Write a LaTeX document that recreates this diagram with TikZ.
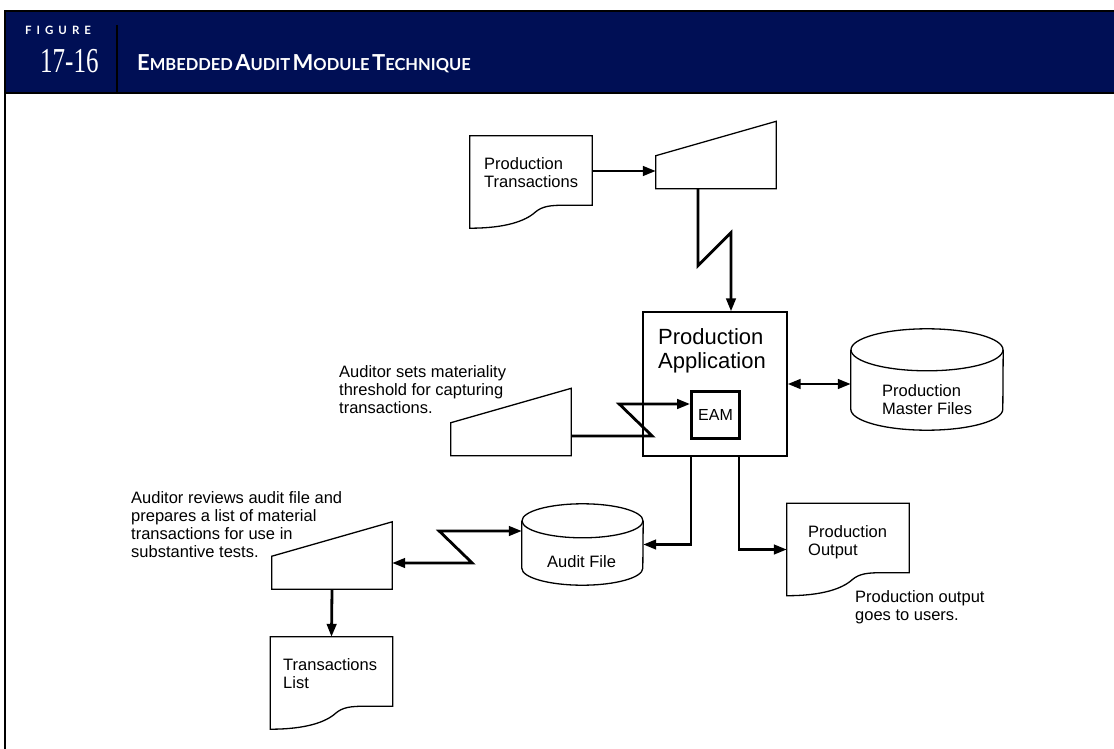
\documentclass[tikz,border=0pt]{standalone}
\usepackage{fontspec}
\setmainfont{Liberation Sans}
\newfontfamily\headfont{Lato}
\newfontfamily\numfont{Liberation Serif}
\usetikzlibrary{arrows.meta, calc}
\definecolor{headnavy}{RGB}{0,15,85}
\newcommand\capword[2]{{\fontsize{22}{22}\selectfont #1}{\fontsize{16.5}{16.5}\selectfont #2}}
\tikzset{
  flow/.style={
    -{Triangle[length=13pt,width=9.5pt]},
    line width=2.8pt
  },
  both flow/.style={
    {Triangle[length=13pt,width=9.5pt]}-{Triangle[length=13pt,width=9.5pt]},
    line width=2.8pt
  },
  outline/.style={
    line width=1.3pt
  },
  doc/.style={
    minimum width=122pt,
    minimum height=92pt,
    inner sep=0pt
  },
  keyin/.style={
    minimum width=120pt,
    minimum height=67pt,
    inner sep=0pt
  },
  body text/.style={
    font=\fontsize{16.5}{18}\selectfont,
    align=left,
    anchor=north west,
    inner sep=0pt
  },
  head text/.style={
    anchor=base west,
    inner sep=0pt,
    text=white
  }
}

\begin{document}
\begin{tikzpicture}[x=1pt, y=-1pt]
    \useasboundingbox (0,0) rectangle (1114,749);

    % header band and frame
    \fill[headnavy] (5,10) rectangle (1114,93);
    \draw[line width=2pt] (1114,11) -- (5,11) -- (5,749);
    \draw[line width=2pt] (5,93) -- (1114,93);
    \draw[line width=2.2pt] (117,25) -- (117,93);
    \node[head text, font=\headfont\bfseries\fontsize{11.5}{11.5}\selectfont] (figword) at (25,35)
      {F\hspace{5pt}I\hspace{5pt}G\hspace{5pt}U\hspace{5pt}R\hspace{5pt}E};
    \node[head text, font=\numfont\fontsize{25}{25}\selectfont] (fignum) at (40,73)
      {\scalebox{1}[1.4]{17-16}};
    \node[head text, font=\headfont\bfseries] (title) at (137,71)
      {\capword{E}{MBEDDED} \capword{A}{UDIT} \capword{M}{ODULE} \capword{T}{ECHNIQUE}};

    % documents, keyboards, files
    \node[doc] (ptrans) at (531,182) {};
    \node[doc] (tlist) at (331.5,683) {};
    \node[doc] (pout) at (848,549.5) {};
    \node[keyin] (keyA) at (716,155) {};
    \node[keyin] (keyB) at (511,422) {};
    \node[keyin] (keyC) at (332,555.5) {};
    \node[minimum width=152pt, minimum height=101pt, inner sep=0pt] (pmf) at (927,379.5) {};
    \node[minimum width=121pt, minimum height=81pt, inner sep=0pt] (afile) at (582.5,544.5) {};

    % application with embedded module
    \node[draw, outline, minimum width=144pt, minimum height=144pt] (app) at (715,384) {};
    \node[draw, line width=2.8pt, minimum width=48pt, minimum height=47pt, inner sep=0pt,
          font=\fontsize{16}{18}\selectfont] (eam) at (715.5,415) {EAM};

    \foreach \d in {ptrans, tlist, pout}
      \draw[outline] ([yshift=23pt]\d.south east) -- ([shift={(-27pt,23pt)}]\d.south east)
        .. controls ([shift={(-42pt,23pt)}]\d.south east) and ([shift={(-50pt,22pt)}]\d.south east) .. ([shift={(-57pt,16pt)}]\d.south east)
        .. controls ([shift={(-67pt,7pt)}]\d.south east) and ([shift={(-87pt,0pt)}]\d.south east) .. (\d.south west)
        -- (\d.north west) -- (\d.north east) -- cycle;

    \foreach \k in {keyA, keyB, keyC}
      \draw[outline] (\k.south west) -- ([yshift=33pt]\k.south west) -- (\k.north east) -- (\k.south east) -- cycle;

    \foreach \c/\rx/\ry in {pmf/76/21, afile/60.5/17} {
      \draw[outline] ([yshift=-\ry pt]\c.north west) -- ([yshift=\ry pt]\c.south west)
        arc[start angle=180, end angle=360, x radius=\rx pt, y radius=\ry pt] -- ([yshift=-\ry pt]\c.north east);
      \draw[outline] ([yshift=-\ry pt]\c.north) ellipse [x radius=\rx pt, y radius=\ry pt];
    }

    % labels
    \node[body text] (ptranstxt) at (484,157) {Production\\Transactions};
    \node[body text] (tlisttxt) at (283,658) {Transactions\\List};
    \node[body text] (pouttxt) at (808,525) {Production\\Output};
    \node[body text] (pmftxt) at (882,384) {Production\\Master Files};
    \node[body text] (afiletxt) at (547,555) {Audit File};
    \node[body text, font=\fontsize{22}{24}\selectfont] (apptxt) at (658,328) {Production\\Application};
    \node[body text] (noteA) at (339,365) {Auditor sets materiality\\threshold for capturing\\transactions.};
    \node[body text] (noteB) at (131,491) {Auditor reviews audit file and\\prepares a list of material\\transactions for use in\\substantive tests.};
    \node[body text] (noteC) at (855,590) {Production output\\goes to users.};

    % connectors
    \draw[flow] ([yshift=11pt]ptrans.east) -- ([yshift=11pt]ptrans.east -| keyA.west);
    \draw[flow] ([xshift=-18pt]keyA.south) -- ++(0,77) -- ++(33,-33) -- ([xshift=16pt]app.north);
    \draw[flow] ([yshift=-14pt]keyB.east) -- ++(81,0) -- ++(-33,-32) -- ([yshift=11pt]eam.west);
    \draw[both flow] (app.east) -- (app.east -| pmf.west);
    \draw[flow] ([xshift=-24pt]app.south) |- (afile.east);
    \draw[flow] ([xshift=24pt]app.south) |- (pout.west);
    \draw[both flow] ([yshift=-7.5pt]keyC.east) -- ++(80,0) -- ++(-33,-32) -- ([yshift=13.5pt]afile.west);
    \draw[flow] (keyC.south) -- (tlist.north);

\end{tikzpicture}
\end{document}
